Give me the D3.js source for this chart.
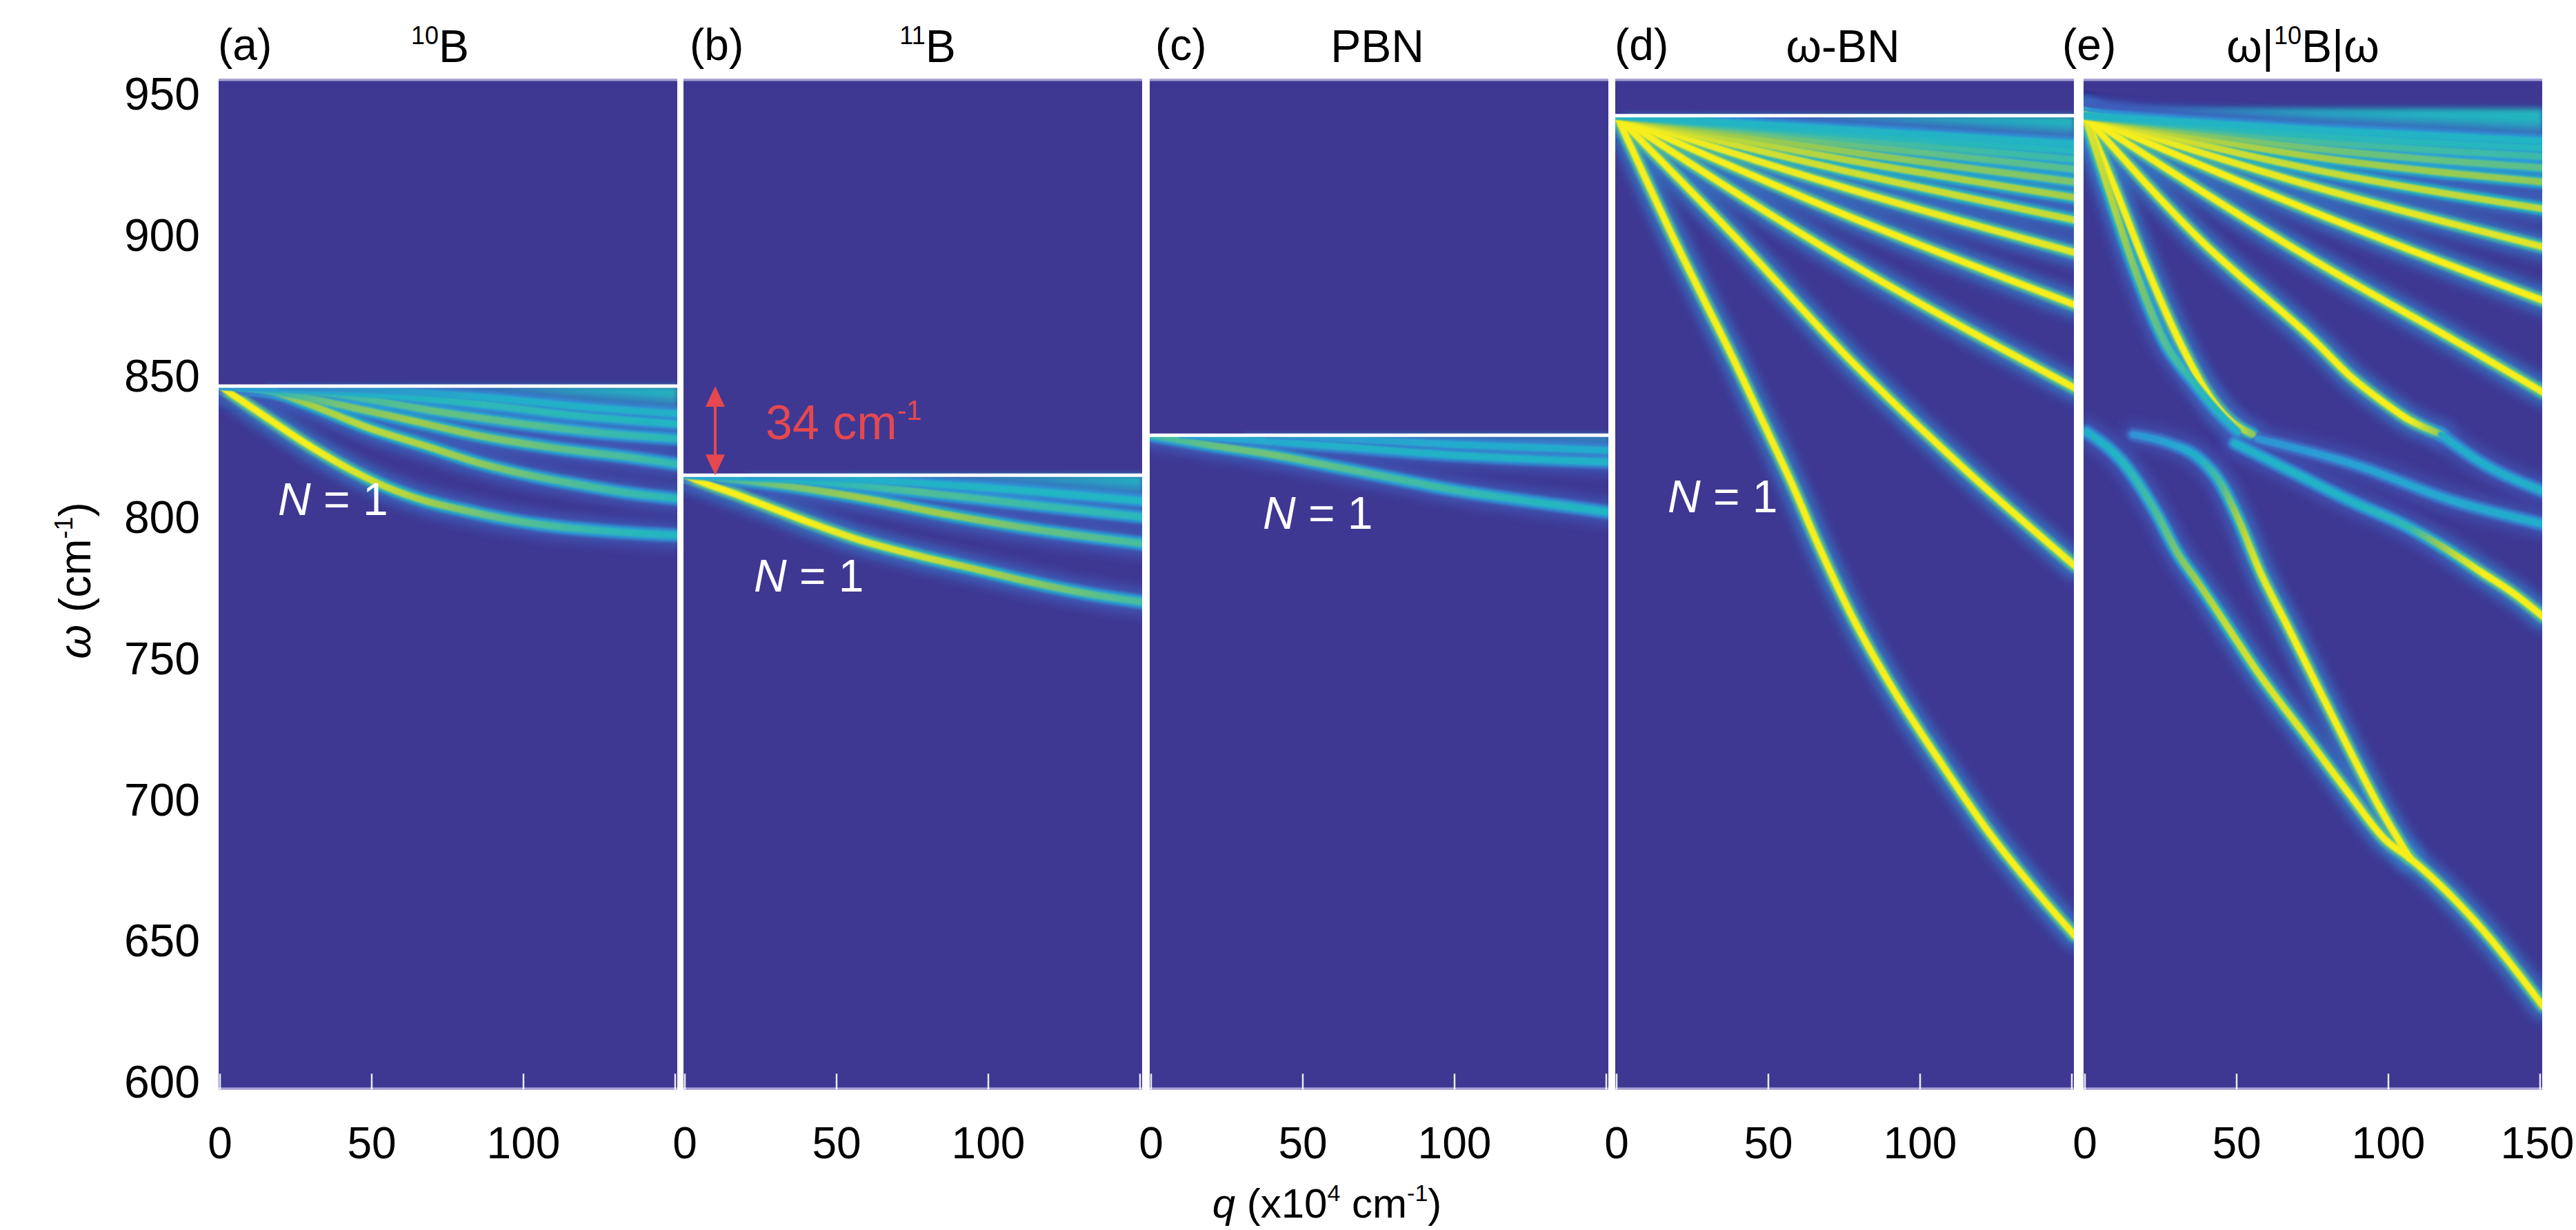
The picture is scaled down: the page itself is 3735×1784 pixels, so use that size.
<!DOCTYPE html>
<html>
<head>
<meta charset="utf-8">
<script src="https://cdn.jsdelivr.net/npm/d3@7"></script>
<style>
html, body { margin: 0; padding: 0; background: #fff; }
svg { display: block; }
text { font-family: "Liberation Sans", Arial, Helvetica, sans-serif; }
</style>
</head>
<body>
<svg id="chart" width="3735" height="1784"></svg>
<script>
// ---- values ----
var panelIds = [ "a", "b", "c", "d", "e" ];
var panelTitles = [
    [ { t: "10", sup: true }, { t: "B" } ],
    [ { t: "11", sup: true }, { t: "B" } ],
    [ { t: "PBN" } ],
    [ { t: "ω-BN" } ],
    [ { t: "ω|" }, { t: "10", sup: true }, { t: "B|ω" } ]
];
var yTicks = [ 600, 650, 700, 750, 800, 850, 900, 950 ];
var xTicks = [ 0, 50, 100, 150 ];
var xTickLabels = [ [ 0, 50, 100 ], [ 0, 50, 100 ], [ 0, 50, 100 ], [ 0, 50, 100 ], [ 0, 50, 100, 150 ] ];

// upper band edge (white line), cm-1
var bandEdges = [ 846.2, 814.6, 828.8, 942, null ];

// mode branches: [q, omega, intensity]
var modesA = [
    [ [ 0, 846.2, 1 ], [ 16.8, 834, 1 ], [ 29.5, 825, 1 ], [ 42.3, 817, 0.95 ], [ 55, 810.4, 0.88 ], [ 67.8, 805.5, 0.8 ], [ 80.6, 802.2, 0.72 ], [ 94.9, 799, 0.66 ], [ 110.8, 796.5, 0.62 ], [ 126.8, 794.9, 0.58 ], [ 151, 793.3, 0.55 ] ],
    [ [ 0, 846.2, 0.6 ], [ 14.4, 845, 0.7 ], [ 29.5, 839.7, 0.8 ], [ 48.7, 831.5, 0.86 ], [ 67.8, 825, 0.82 ], [ 86.9, 818.5, 0.75 ], [ 102.9, 814.4, 0.68 ], [ 118.8, 811.2, 0.63 ], [ 134.8, 808.3, 0.6 ], [ 151, 806.3, 0.57 ] ],
    [ [ 0, 846.2, 0.45 ], [ 20.9, 843.7, 0.6 ], [ 42, 839, 0.72 ], [ 63, 834, 0.78 ], [ 86.9, 828.3, 0.74 ], [ 110.8, 824.2, 0.67 ], [ 134.8, 821, 0.62 ], [ 151, 818.5, 0.58 ] ],
    [ [ 0, 846.2, 0.4 ], [ 40, 843, 0.6 ], [ 71, 837.3, 0.68 ], [ 102.9, 832.4, 0.65 ], [ 126.8, 829.5, 0.6 ], [ 151, 827.5, 0.57 ] ],
    [ [ 0, 846.2, 0.35 ], [ 60, 842.5, 0.55 ], [ 86.9, 839.7, 0.58 ], [ 118.8, 835.6, 0.57 ], [ 151, 832.8, 0.55 ] ],
    [ [ 20, 846.2, 0.3 ], [ 90, 842, 0.5 ], [ 118.8, 838.9, 0.52 ], [ 151, 836.4, 0.52 ] ]
];
var modesB = [
    [ [ 0, 814.6, 1 ], [ 3.2, 813.2, 1 ], [ 18.8, 807.1, 1 ], [ 38.3, 799, 1 ], [ 57.8, 791.6, 0.95 ], [ 77.3, 786, 0.9 ], [ 96.8, 781.1, 0.82 ], [ 116.3, 776.2, 0.74 ], [ 135.8, 772.1, 0.66 ], [ 151, 769.7, 0.62 ] ],
    [ [ 0, 814.6, 0.5 ], [ 28.6, 811.5, 0.7 ], [ 57.8, 806.7, 0.78 ], [ 87, 800.6, 0.78 ], [ 116.3, 795.3, 0.68 ], [ 151, 790.4, 0.62 ] ],
    [ [ 0, 814.6, 0.4 ], [ 40, 812.6, 0.55 ], [ 77.3, 808.7, 0.64 ], [ 116.3, 803.9, 0.6 ], [ 151, 799.8, 0.57 ] ],
    [ [ 20, 814.6, 0.35 ], [ 60, 813, 0.5 ], [ 96.8, 810.4, 0.55 ], [ 151, 805.5, 0.55 ] ]
];
var modesC = [
    [ [ 0, 828.8, 0.6 ], [ 21.1, 825, 0.68 ], [ 40.6, 821.8, 0.7 ], [ 60.1, 817.7, 0.66 ], [ 79.6, 813.6, 0.62 ], [ 99.1, 809.5, 0.6 ], [ 118.6, 806.3, 0.57 ], [ 151, 801.5, 0.55 ] ],
    [ [ 10, 828.8, 0.4 ], [ 60.1, 825, 0.52 ], [ 99.1, 821.8, 0.53 ], [ 151, 819.3, 0.52 ] ],
    [ [ 40, 828.8, 0.35 ], [ 100, 825.5, 0.48 ], [ 151, 823.4, 0.48 ] ]
];
var modesD = [
    [ [ 0, 942, 1 ], [ 8.9, 921.2, 1 ], [ 18.7, 898.7, 1 ], [ 28.4, 877.6, 1 ], [ 38.2, 856.4, 1 ], [ 48, 834, 1 ], [ 58, 811, 1 ], [ 66, 791, 1 ], [ 77.4, 765, 1 ], [ 91, 739, 1 ], [ 106.7, 713, 1 ], [ 122.4, 688.5, 1 ], [ 140, 665, 1 ], [ 151, 651.5, 1 ] ],
    [ [ 0, 942, 1 ], [ 38.2, 900, 1 ], [ 77.4, 855, 1 ], [ 116.5, 815, 1 ], [ 151, 782.5, 1 ] ],
    [ [ 0, 942, 1 ], [ 75, 891, 1 ], [ 151, 845.5, 1 ] ],
    [ [ 0, 942, 1 ], [ 75, 907, 1 ], [ 151, 875, 1 ] ],
    [ [ 0, 942, 0.98 ], [ 75, 916.5, 0.98 ], [ 151, 893.5, 0.95 ] ],
    [ [ 0, 942, 0.92 ], [ 75, 922.5, 0.9 ], [ 151, 905, 0.88 ] ],
    [ [ 0, 942, 0.86 ], [ 75, 926.5, 0.84 ], [ 151, 913, 0.8 ] ],
    [ [ 0, 942, 0.8 ], [ 75, 929.5, 0.76 ], [ 151, 918.5, 0.72 ] ],
    [ [ 0, 942, 0.72 ], [ 75, 932, 0.68 ], [ 151, 923, 0.65 ] ],
    [ [ 0, 942, 0.64 ], [ 75, 934, 0.62 ], [ 151, 926.5, 0.6 ] ],
    [ [ 0, 942, 0.58 ], [ 75, 935.5, 0.57 ], [ 151, 929.5, 0.56 ] ],
    [ [ 0, 942, 0.54 ], [ 75, 937, 0.54 ], [ 151, 932, 0.54 ] ]
];
var modesE = [
    [ [ 0, 942, 1 ], [ 10, 916, 1 ], [ 20, 889, 1 ], [ 31.7, 860.8, 1 ], [ 39.6, 845, 1 ], [ 47.5, 834.4, 1 ], [ 55.3, 829.1, 0.75 ] ],
    [ [ 0, 942, 0.95 ], [ 8, 915, 0.85 ], [ 16, 889, 0.74 ], [ 26.8, 860.8, 0.64 ], [ 35.6, 848, 0.58 ], [ 44.5, 836.5, 0.54 ], [ 50.4, 830.1, 0.5 ] ],
    [ [ 0, 942, 1 ], [ 38, 898, 1 ], [ 77, 860.8, 1 ], [ 86.9, 850.2, 1 ], [ 96.7, 841.8, 1 ], [ 106.6, 834.4, 1 ], [ 117.4, 829.1, 0.75 ] ],
    [ [ 0, 942, 1 ], [ 75, 891, 1 ], [ 124.3, 860.8, 1 ], [ 151, 844, 1 ] ],
    [ [ 0, 942, 1 ], [ 75, 908, 1 ], [ 151, 876.5, 1 ] ],
    [ [ 0, 942, 0.98 ], [ 75, 917, 0.96 ], [ 151, 895.5, 0.94 ] ],
    [ [ 0, 942, 0.92 ], [ 75, 923, 0.88 ], [ 151, 909, 0.86 ] ],
    [ [ 0, 942, 0.85 ], [ 75, 927.5, 0.8 ], [ 151, 918.5, 0.76 ] ],
    [ [ 0, 942, 0.76 ], [ 75, 930.5, 0.7 ], [ 151, 923.5, 0.66 ] ],
    [ [ 0, 942, 0.66 ], [ 75, 933, 0.62 ], [ 151, 927.5, 0.6 ] ],
    [ [ 0, 942, 0.58 ], [ 75, 935, 0.57 ], [ 151, 930.5, 0.56 ] ],
    [ [ 0, 942, 0.54 ], [ 75, 937, 0.54 ], [ 151, 933, 0.54 ] ],
    // branches below the 10B band
    [ [ 0.5, 830, 0.5 ], [ 13, 818.5, 0.56 ], [ 22.8, 802.6, 0.62 ], [ 30.7, 786.7, 0.72 ], [ 37.6, 776.1, 0.8 ], [ 45.5, 763.4, 0.88 ], [ 57.3, 744.3, 0.92 ], [ 72.1, 723.2, 0.95 ], [ 86.9, 702, 1 ], [ 99.1, 685.4, 1 ], [ 107, 679, 1 ], [ 128.5, 656.7, 1 ], [ 151, 626.5, 1 ] ],
    [ [ 15.9, 829, 0.35 ], [ 27.7, 825.9, 0.42 ], [ 37.6, 820.6, 0.52 ], [ 44.5, 812.1, 0.62 ], [ 50.4, 799.4, 0.8 ], [ 57.3, 781.4, 0.95 ], [ 67.2, 760.2, 1 ], [ 77, 739, 1 ], [ 86.9, 717.9, 1 ], [ 96.7, 697.7, 1 ], [ 107, 679, 1 ] ],
    [ [ 49.4, 826, 0.52 ], [ 67.2, 816.4, 0.54 ], [ 86.9, 805.8, 0.54 ], [ 106.6, 796.2, 0.58 ], [ 116, 790.5, 0.75 ], [ 124, 785, 0.9 ], [ 131, 780, 1 ], [ 141.1, 772.9, 1 ], [ 151, 764.5, 1 ] ],
    [ [ 117.4, 829, 0.5 ], [ 130, 819.5, 0.5 ], [ 151, 809, 0.5 ] ],
    [ [ 57, 827.5, 0.35 ], [ 90, 818, 0.42 ], [ 120, 806, 0.46 ], [ 151, 797.3, 0.5 ] ]
];

// diffuse bands: [q, omega top, omega bottom, intensity]
var hazeA = [
    [ [ 15, 846.2, 845.6, 0.3 ], [ 60, 846.2, 842, 0.5 ], [ 100, 846.2, 839, 0.55 ], [ 151, 846.2, 835, 0.56 ] ]
];
var hazeB = [
    [ [ 20, 814.6, 813.8, 0.3 ], [ 70, 814.6, 811, 0.5 ], [ 151, 814.6, 806.5, 0.55 ] ]
];
var hazeC = [
    [ [ 30, 828.8, 828, 0.32 ], [ 90, 828.8, 825, 0.46 ], [ 151, 828.8, 821, 0.5 ] ]
];
var hazeD = [
    [ [ 3, 942, 940.5, 0.38 ], [ 30, 942, 936, 0.5 ], [ 75, 942, 930.5, 0.55 ], [ 151, 942, 922.5, 0.56 ] ]
];
var hazeE = [
    [ [ 0, 944.5, 940, 0.42 ], [ 30, 944.5, 936, 0.52 ], [ 75, 944.5, 930.5, 0.55 ], [ 151, 944.5, 922.5, 0.56 ] ]
];

// "N = 1" label anchors [q, omega]
var labelN = [ [ 19.1, 800.5 ], [ 22.7, 773.4 ], [ 36.8, 795.6 ], [ 16.8, 801.5 ], null ];

// ---- layout ----
var W = 3735, H = 1784;
var panelLeft = [ 317, 991, 1667, 2342, 3021 ];
var panelW = 665;
var tagX = [ 316, 1000, 1675, 2341, 2990 ];
var titleX = [ 638, 1345, 1997, 2672, 3339 ];
var modeSets = [ modesA, modesB, modesC, modesD, modesE ];
var hazeSets = [ hazeA, hazeB, hazeC, hazeD, hazeE ];

var color = d3.scaleLinear()
    .domain( [ 0, 0.2, 0.38, 0.55, 0.78, 1 ] )
    .range( [ "#3e3893", "#4262c2", "#2a9ed8", "#20b5c4", "#9ccb4e", "#f7ee1c" ] )
    .clamp( true );

var layers = [
    { width: 38, k: 0.3, filter: "blurHalo", opacity: 0.75 },
    { width: 19, k: 0.64, filter: "blurBody", opacity: 1 },
    { width: 10, k: 1, filter: "blurCore", opacity: 1 }
];

var svg = d3.select( "#chart" );
var defs = svg.append( "defs" );
svg.append( "rect" ).attr( "width", W ).attr( "height", H ).attr( "fill", "#fff" );

var y = d3.scaleLinear().domain( [ 600, 950 ] ).range( [ 1568, 135 ] );
var panelTop = y( 955 ), panelBottom = y( 597 );

function blurFilter( id, sd ) {
    defs.append( "filter" ).attr( "id", id )
        .attr( "filterUnits", "userSpaceOnUse" )
        .attr( "x", 0 ).attr( "y", 0 ).attr( "width", W ).attr( "height", H )
        .append( "feGaussianBlur" ).attr( "stdDeviation", sd );
}
blurFilter( "blurHalo", 8 );
blurFilter( "blurBody", 2.2 );
blurFilter( "blurCore", 1.2 );
blurFilter( "blurHaze", 4.5 );

var gradCount = 0;
function hGradient( pts, x, k ) {
    var id = "grad" + ( gradCount++ );
    var x0 = x( pts[ 0 ][ 0 ] ), x1 = x( pts[ pts.length - 1 ][ 0 ] );
    var lg = defs.append( "linearGradient" ).attr( "id", id )
        .attr( "gradientUnits", "userSpaceOnUse" )
        .attr( "x1", x0 ).attr( "x2", x1 ).attr( "y1", 0 ).attr( "y2", 0 );
    pts.forEach( function( p ) {
        lg.append( "stop" )
            .attr( "offset", ( x( p[ 0 ] ) - x0 ) / ( x1 - x0 ) )
            .attr( "stop-color", color( p[ p.length - 1 ] * k ) );
    } );
    return "url(#" + id + ")";
}

function supText( sel, parts, supSize, rise ) {
    parts.forEach( function( p ) {
        var t = sel.append( "tspan" ).text( p.t );
        if ( p.sup ) t.attr( "font-size", supSize ).attr( "dy", -rise );
        if ( p.after ) t.attr( "dy", rise );
        if ( p.italic ) t.attr( "font-style", "italic" );
    } );
}

panelIds.forEach( function( pid, i ) {
    var left = panelLeft[ i ];
    var x = d3.scaleLinear().domain( [ 0, 150 ] ).range( [ left + 2, left + 662 ] );
    var g = svg.append( "g" ).attr( "class", "panel-" + pid );
    var edge = bandEdges[ i ];
    var modeTop = edge === null ? panelTop : y( edge );

    defs.append( "clipPath" ).attr( "id", "clip-" + pid ).append( "rect" )
        .attr( "x", left ).attr( "y", panelTop )
        .attr( "width", panelW ).attr( "height", panelBottom - panelTop );
    defs.append( "clipPath" ).attr( "id", "clipm-" + pid ).append( "rect" )
        .attr( "x", left ).attr( "y", modeTop )
        .attr( "width", panelW ).attr( "height", panelBottom - modeTop );

    g.append( "rect" )
        .attr( "x", left ).attr( "y", panelTop )
        .attr( "width", panelW ).attr( "height", panelBottom - panelTop )
        .attr( "fill", color( 0 ) );

    var area = d3.area()
        .x( function( d ) { return x( d[ 0 ] ); } )
        .y0( function( d ) { return y( d[ 2 ] ); } )
        .y1( function( d ) { return y( d[ 1 ] ); } )
        .curve( d3.curveMonotoneX );
    var hz = g.append( "g" ).attr( "clip-path", "url(#clip-" + pid + ")" );
    hazeSets[ i ].forEach( function( band ) {
        hz.append( "path" )
            .attr( "d", area( band ) )
            .attr( "fill", hGradient( band, x, 1 ) )
            .attr( "filter", "url(#blurHaze)" );
    } );

    var line = d3.line()
        .x( function( d ) { return x( d[ 0 ] ); } )
        .y( function( d ) { return y( d[ 1 ] ); } )
        .curve( d3.curveMonotoneX );
    var mg = g.append( "g" ).attr( "clip-path", "url(#clipm-" + pid + ")" );
    layers.forEach( function( L ) {
        modeSets[ i ].forEach( function( m ) {
            mg.append( "path" )
                .attr( "d", line( m ) )
                .attr( "fill", "none" )
                .attr( "stroke", hGradient( m, x, L.k ) )
                .attr( "stroke-width", L.width )
                .attr( "stroke-linecap", "round" )
                .attr( "opacity", L.opacity )
                .attr( "filter", "url(#" + L.filter + ")" );
        } );
    } );

    if ( edge !== null ) {
        g.append( "line" )
            .attr( "x1", left ).attr( "x2", left + panelW )
            .attr( "y1", y( edge ) ).attr( "y2", y( edge ) )
            .attr( "stroke", "#fff" ).attr( "stroke-width", 5 );
    }

    // image edges
    g.append( "line" ).attr( "x1", left ).attr( "x2", left + panelW )
        .attr( "y1", panelTop + 1.5 ).attr( "y2", panelTop + 1.5 )
        .attr( "stroke", "#a6a1d6" ).attr( "stroke-width", 3 );
    g.append( "line" ).attr( "x1", left ).attr( "x2", left + panelW )
        .attr( "y1", panelBottom - 1.5 ).attr( "y2", panelBottom - 1.5 )
        .attr( "stroke", "#a6a1d6" ).attr( "stroke-width", 3 );

    // bottom ticks
    g.selectAll( "line.tick" ).data( xTicks ).enter().append( "line" )
        .attr( "class", "tick" )
        .attr( "x1", x ).attr( "x2", x )
        .attr( "y1", panelBottom - 23 ).attr( "y2", panelBottom )
        .attr( "stroke", "#fff" ).attr( "stroke-width", 2.5 ).attr( "opacity", 0.9 );

    g.selectAll( "text.xtl" ).data( xTickLabels[ i ] ).enter().append( "text" )
        .attr( "class", "xtl" )
        .attr( "x", function( d ) { return d === 150 ? x( d ) - 4 : x( d ); } )
        .attr( "y", 1680 )
        .attr( "text-anchor", "middle" )
        .attr( "font-size", 64 )
        .text( function( d ) { return d; } );

    // tag and title
    g.append( "text" ).attr( "x", tagX[ i ] ).attr( "y", 87 )
        .attr( "font-size", 64 ).text( "(" + pid + ")" );
    var tt = g.append( "text" ).attr( "x", titleX[ i ] ).attr( "y", 90 )
        .attr( "font-size", 66 ).attr( "text-anchor", "middle" );
    var parts = [];
    panelTitles[ i ].forEach( function( p, j ) {
        var prev = panelTitles[ i ][ j - 1 ];
        parts.push( { t: p.t, sup: p.sup, after: prev && prev.sup } );
    } );
    supText( tt, parts, 36, 26 );

    if ( labelN[ i ] ) {
        var nl = g.append( "text" )
            .attr( "x", x( labelN[ i ][ 0 ] ) ).attr( "y", y( labelN[ i ][ 1 ] ) )
            .attr( "font-size", 66 ).attr( "fill", "#fff" );
        nl.append( "tspan" ).attr( "font-style", "italic" ).text( "N" );
        nl.append( "tspan" ).text( " = 1" );
    }

    // 34 cm-1 splitting marker in panel b
    if ( pid === "b" ) {
        var red = "#e5484f";
        var ax = x( 10 ), yT = y( bandEdges[ 0 ] ), yB = y( bandEdges[ 1 ] );
        g.append( "line" ).attr( "x1", ax ).attr( "x2", ax )
            .attr( "y1", yT + 20 ).attr( "y2", yB - 20 )
            .attr( "stroke", red ).attr( "stroke-width", 4 );
        g.append( "path" )
            .attr( "d", "M" + ax + "," + yT + "L" + ( ax - 14 ) + "," + ( yT + 30 ) + "L" + ( ax + 14 ) + "," + ( yT + 30 ) + "Z" +
                "M" + ax + "," + yB + "L" + ( ax - 14 ) + "," + ( yB - 30 ) + "L" + ( ax + 14 ) + "," + ( yB - 30 ) + "Z" )
            .attr( "fill", red );
        var rt = g.append( "text" )
            .attr( "x", x( 26.6 ) ).attr( "y", y( 827.4 ) )
            .attr( "font-size", 70 ).attr( "fill", red );
        supText( rt, [ { t: "34 cm" }, { t: "-1", sup: true } ], 40, 28 );
    }
} );

// y axis
svg.selectAll( "text.ytl" ).data( yTicks ).enter().append( "text" )
    .attr( "class", "ytl" )
    .attr( "x", 290 ).attr( "y", function( d ) { return y( d ) + 24; } )
    .attr( "text-anchor", "end" )
    .attr( "font-size", 66 )
    .text( function( d ) { return d; } );

var yt = svg.append( "text" )
    .attr( "transform", "translate(131,842) rotate(-90)" )
    .attr( "text-anchor", "middle" )
    .attr( "font-size", 64 );
supText( yt, [ { t: "ω", italic: true }, { t: " (cm" }, { t: "-1", sup: true }, { t: ")", after: true } ], 36, 26 );

var xt = svg.append( "text" )
    .attr( "x", 1924 ).attr( "y", 1766 )
    .attr( "text-anchor", "middle" )
    .attr( "font-size", 60 );
supText( xt, [ { t: "q", italic: true }, { t: " (x10" }, { t: "4", sup: true }, { t: " cm", after: true }, { t: "-1", sup: true }, { t: ")", after: true } ], 34, 24 );
</script>
</body>
</html>
